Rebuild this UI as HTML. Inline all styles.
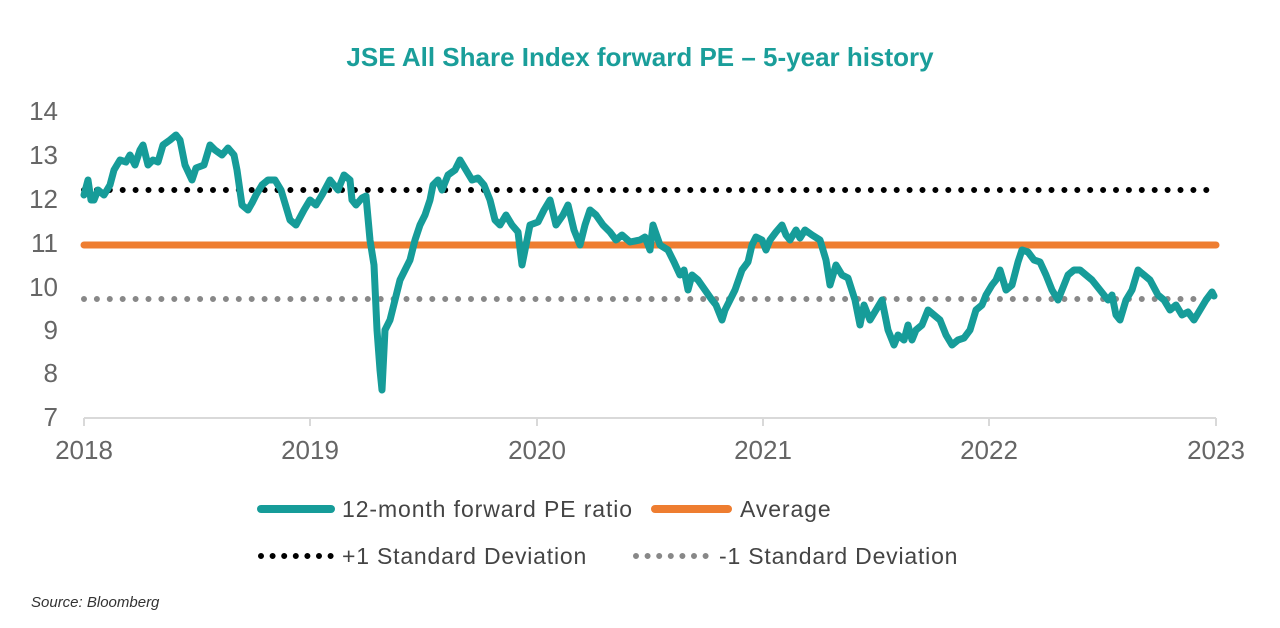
<!DOCTYPE html>
<html><head><meta charset="utf-8"><style>
html,body{margin:0;padding:0;background:#fff;}
body{width:1280px;height:623px;overflow:hidden;font-family:"Liberation Sans",sans-serif;}
</style></head><body>
<svg width="1280" height="623" viewBox="0 0 1280 623" xmlns="http://www.w3.org/2000/svg" font-family="Liberation Sans, sans-serif">
<text x="640" y="66" text-anchor="middle" font-size="26" font-weight="bold" fill="#1a9e9a">JSE All Share Index forward PE – 5-year history</text>
<g font-size="26" fill="#666" text-anchor="end">
<text x="58" y="120">14</text><text x="58" y="164">13</text><text x="58" y="208">12</text><text x="58" y="252">11</text>
<text x="58" y="296">10</text><text x="58" y="339">9</text><text x="58" y="382">8</text><text x="58" y="426">7</text>
</g>
<g font-size="26" fill="#666" text-anchor="middle">
<text x="84" y="459">2018</text><text x="310" y="459">2019</text><text x="537" y="459">2020</text>
<text x="763" y="459">2021</text><text x="989" y="459">2022</text><text x="1216" y="459">2023</text>
</g>
<g stroke="#d9d9d9" stroke-width="2" fill="none">
<line x1="84" y1="418" x2="1216" y2="418"/>
<line x1="84" y1="418" x2="84" y2="426"/><line x1="310" y1="418" x2="310" y2="426"/><line x1="537" y1="418" x2="537" y2="426"/>
<line x1="763" y1="418" x2="763" y2="426"/><line x1="989" y1="418" x2="989" y2="426"/><line x1="1216" y1="418" x2="1216" y2="426"/>
</g>
<line x1="84" y1="190" x2="1210" y2="190" stroke="#000" stroke-width="6" stroke-linecap="round" stroke-dasharray="0 12.9"/>
<line x1="84" y1="299" x2="1210" y2="299" stroke="#888" stroke-width="6" stroke-linecap="round" stroke-dasharray="0 12.9"/>
<line x1="84" y1="245" x2="1216" y2="245" stroke="#ee7d30" stroke-width="7" stroke-linecap="round"/>
<polyline fill="none" stroke="#169c99" stroke-width="7" stroke-linejoin="round" stroke-linecap="round" points="84,195 88,180 91,200 94,200 98,190 104,195 110,185 114,170 120,160 126,162 130,155 135,165 140,150 143,145 148,165 153,160 158,162 163,145 170,140 176,135 180,140 185,165 192,180 196,168 204,165 210,145 215,150 222,155 228,148 234,155 237,170 242,205 248,210 252,203 256,195 262,185 268,180 275,180 281,190 290,220 296,225 304,210 310,200 316,205 322,195 330,180 338,190 344,175 350,180 352,200 356,205 362,198 366,196 370,240 374,265 377,330 380,370 382,390 385,330 390,320 395,300 400,280 405,270 410,260 415,240 420,225 425,215 430,200 433,185 438,180 442,190 448,175 455,170 460,160 466,170 472,180 478,178 484,185 490,200 495,220 500,225 506,215 512,225 518,232 522,265 525,250 530,225 538,222 544,210 550,200 556,225 563,215 568,205 574,230 580,245 585,225 590,210 596,215 603,225 610,232 616,240 622,235 630,242 640,240 645,237 650,250 653,225 660,245 668,250 674,262 680,275 684,270 688,290 692,275 698,280 705,290 712,300 716,305 722,320 725,310 730,300 735,290 742,270 748,262 752,245 756,237 762,240 766,250 770,240 776,232 782,225 786,235 790,240 796,230 800,238 805,230 812,235 820,240 826,260 830,285 836,265 842,275 848,278 855,300 860,325 864,305 870,320 876,310 882,300 888,330 894,345 898,335 904,340 908,325 912,340 916,330 922,325 928,310 934,315 940,320 946,335 952,345 958,340 964,338 970,330 976,310 982,305 986,295 992,285 996,280 1000,270 1006,290 1012,285 1018,262 1022,250 1028,252 1034,260 1040,262 1046,275 1052,290 1058,300 1064,285 1068,275 1074,270 1080,270 1086,275 1092,280 1100,290 1108,300 1112,295 1116,315 1120,320 1126,300 1132,290 1138,270 1144,275 1150,280 1158,295 1164,300 1170,310 1176,305 1182,315 1188,312 1194,320 1200,310 1206,300 1212,292 1214,296"/>
<line x1="261" y1="509" x2="331" y2="509" stroke="#169c99" stroke-width="8" stroke-linecap="round"/>
<text x="342" y="517" font-size="23" fill="#444" letter-spacing="0.9">12-month forward PE ratio</text>
<line x1="655" y1="509" x2="728" y2="509" stroke="#ee7d30" stroke-width="8" stroke-linecap="round"/>
<text x="740" y="517" font-size="23" fill="#444" letter-spacing="0.9">Average</text>
<line x1="261" y1="556" x2="331" y2="556" stroke="#000" stroke-width="6" stroke-linecap="round" stroke-dasharray="0 11.6"/>
<text x="342" y="564" font-size="23" fill="#444" letter-spacing="0.8">+1 Standard Deviation</text>
<line x1="636" y1="556" x2="706" y2="556" stroke="#888" stroke-width="6" stroke-linecap="round" stroke-dasharray="0 11.6"/>
<text x="719" y="564" font-size="23" fill="#444" letter-spacing="0.8">-1 Standard Deviation</text>
<text x="31" y="607" font-size="15" font-style="italic" fill="#333">Source: Bloomberg</text>
</svg>
</body></html>
